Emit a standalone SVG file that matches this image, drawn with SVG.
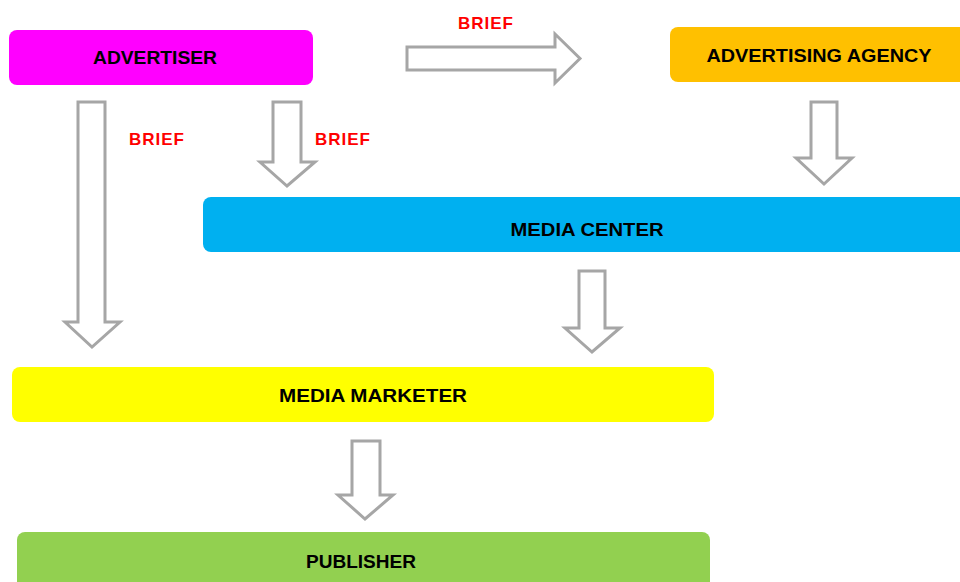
<svg xmlns="http://www.w3.org/2000/svg" width="960" height="582" viewBox="0 0 960 582">
<style>
.node-label{font-family:"Liberation Sans",Arial,sans-serif;font-weight:bold;font-size:19px;fill:#000;text-anchor:middle}
.brief{font-family:"Liberation Sans",Arial,sans-serif;font-weight:bold;font-size:17px;fill:#ff0000;text-anchor:middle;letter-spacing:1px}
.arrow{fill:#fff;stroke:#a6a6a6;stroke-width:3;stroke-linejoin:miter}
</style>
<rect width="960" height="582" fill="#fff"/>
<g id="connectors">
<polygon class="arrow" points="407,47 555,47 555,34 580,58.5 555,83 555,70 407,70"/>
<polygon class="arrow" points="78,102 105,102 105,322 120,322 92,347 65,322 78,322"/>
<polygon class="arrow" points="273,102 301,102 301,162 315,162 287,186 260,162 273,162"/>
<polygon class="arrow" points="811,102 837,102 837,158 852,158 824,184 796,158 811,158"/>
<polygon class="arrow" points="579,271 605,271 605,328 620,328 592,352 565,328 579,328"/>
<polygon class="arrow" points="352,441 380,441 380,495 393,495 365,519 338,495 352,495"/>
<text class="brief" x="486" y="29">BRIEF</text>
<text class="brief" x="157" y="145">BRIEF</text>
<text class="brief" x="343" y="145">BRIEF</text>
</g>
<g id="advertiser">
<rect x="9" y="30" width="304" height="55" rx="8" fill="#ff00ff"/>
<text class="node-label" x="155" y="64" textLength="124" lengthAdjust="spacingAndGlyphs">ADVERTISER</text>
</g>
<g id="advertising-agency">
<rect x="670" y="27" width="300" height="55" rx="8" fill="#ffc000"/>
<text class="node-label" x="819" y="62" textLength="225" lengthAdjust="spacingAndGlyphs">ADVERTISING AGENCY</text>
</g>
<g id="media-center">
<rect x="203" y="197" width="770" height="55" rx="8" fill="#00b0f0"/>
<text class="node-label" x="587" y="236" textLength="153" lengthAdjust="spacingAndGlyphs">MEDIA CENTER</text>
</g>
<g id="media-marketer">
<rect x="12" y="367" width="702" height="55" rx="8" fill="#ffff00"/>
<text class="node-label" x="373" y="402" textLength="188" lengthAdjust="spacingAndGlyphs">MEDIA MARKETER</text>
</g>
<g id="publisher">
<rect x="17" y="532" width="693" height="70" rx="8" fill="#92d050"/>
<text class="node-label" x="361" y="568" textLength="110" lengthAdjust="spacingAndGlyphs">PUBLISHER</text>
</g>
</svg>
